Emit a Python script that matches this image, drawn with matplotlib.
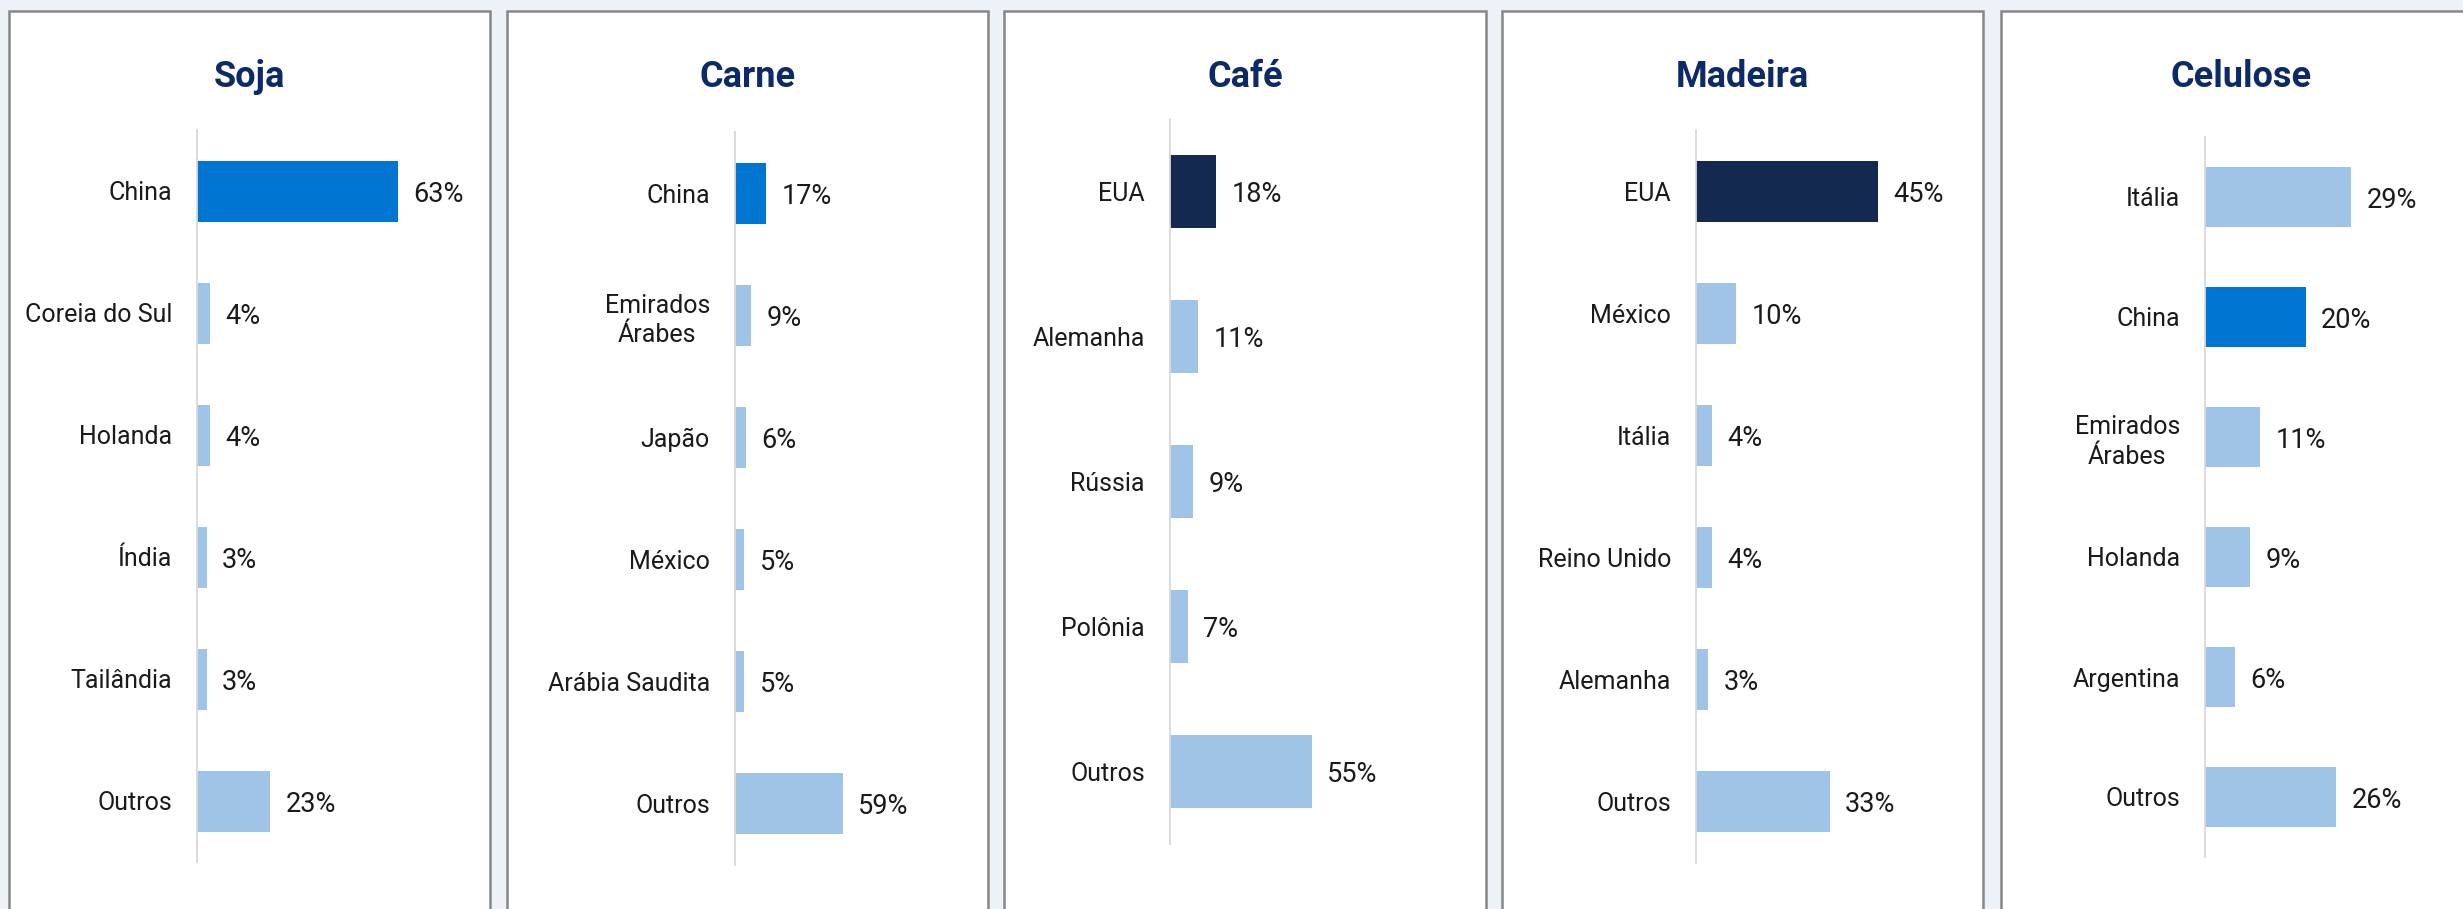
import matplotlib
matplotlib.use("Agg")
import matplotlib.pyplot as plt
from matplotlib.patches import Rectangle

# ---------------- data ----------------
soja_paises = ["China", "Coreia do Sul", "Holanda", "Índia", "Tailândia", "Outros"]
soja_valores = [63, 4, 4, 3, 3, 23]

carne_paises = ["China", "Emirados\nÁrabes", "Japão", "México", "Arábia Saudita", "Outros"]
carne_valores = [17, 9, 6, 5, 5, 59]

cafe_paises = ["EUA", "Alemanha", "Rússia", "Polônia", "Outros"]
cafe_valores = [18, 11, 9, 7, 55]

madeira_paises = ["EUA", "México", "Itália", "Reino Unido", "Alemanha", "Outros"]
madeira_valores = [45, 10, 4, 4, 3, 33]

celulose_paises = ["Itália", "China", "Emirados\nÁrabes", "Holanda", "Argentina", "Outros"]
celulose_valores = [29, 20, 11, 9, 6, 26]

titulos = ["Soja", "Carne", "Café", "Madeira", "Celulose"]

# ---------------- style ----------------
W, H = 2463, 909
DPI = 100
BG = "#edf2f9"
BORDER = "#878787"
TITLE_C = "#0c2a68"
TEXT_C = "#1a1a1a"
AXIS_C = "#d9d9d9"
C_CHINA = "#0075d1"
C_EUA = "#142952"
C_OTHER = "#9fc4e7"
FONT = "Roboto"

plt.rcParams["font.family"] = [FONT, "DejaVu Sans"]

def bar_color(p):
    if p == "China":
        return C_CHINA
    if p == "EUA":
        return C_EUA
    return C_OTHER

fig = plt.figure(figsize=(W / DPI, H / DPI), dpi=DPI, facecolor=BG)

# panel layout in pixels: (panel_left, panel_right, axis_x, axis_top, axis_bottom, xmax)
layout = [
    (9, 490, 197, 130, 862, 81.5),
    (507, 988, 735, 132, 865, 142.0),
    (1004, 1486, 1170, 119, 844, 101.0),
    (1502, 1983, 1696, 130, 863, 64.2),
    (2001, 2482, 2205, 137, 857, 51.6),
]
AX_W = 260
PANEL_TOP = 11

dados = [
    (soja_paises, soja_valores),
    (carne_paises, carne_valores),
    (cafe_paises, cafe_valores),
    (madeira_paises, madeira_valores),
    (celulose_paises, celulose_valores),
]

for (pl, pr, axx, axt, axb, xmax), (paises, vals), titulo in zip(layout, dados, titulos):
    # panel card
    rect = Rectangle((pl / W, -0.05), (pr - pl) / W, (H - PANEL_TOP) / H + 0.05,
                     transform=fig.transFigure, facecolor="white", edgecolor=BORDER,
                     linewidth=1.8, zorder=-5)
    fig.patches.append(rect)
    # title
    fig.text((pl + pr) / 2 / W, (H - 87) / H, titulo, ha="center", va="baseline",
             fontsize=26, fontweight="bold", color=TITLE_C, family=[FONT, "DejaVu Sans"])

    ax = fig.add_axes([axx / W, (H - axb) / H, AX_W / W, (axb - axt) / H])
    ax.set_facecolor("none")
    ax.patch.set_visible(False)
    n = len(paises)
    ys = list(range(n))
    ax.barh(ys, vals, height=0.5, color=[bar_color(p) for p in paises], zorder=2)
    ax.set_xlim(0, xmax)
    ax.set_ylim(n - 0.5, -0.5)
    ax.set_yticks(ys)
    ax.set_yticklabels(paises, fontsize=18, color=TEXT_C)
    for lab in ax.get_yticklabels():
        lab.set_multialignment("center")
        lab.set_linespacing(1.3)
    ax.tick_params(axis="y", length=0, pad=18)
    ax.set_xticks([])
    for s in ["top", "right", "bottom"]:
        ax.spines[s].set_visible(False)
    ax.spines["left"].set_color(AXIS_C)
    ax.spines["left"].set_linewidth(1.3)
    ax.spines["left"].set_zorder(3)
    for y, v in zip(ys, vals):
        ax.annotate(f"{v}%", xy=(v, y), xytext=(11, 0), textcoords="offset points",
                    ha="left", va="center_baseline", fontsize=19.5, color=TEXT_C)

fig.savefig("out.png", dpi=DPI, facecolor=BG)
